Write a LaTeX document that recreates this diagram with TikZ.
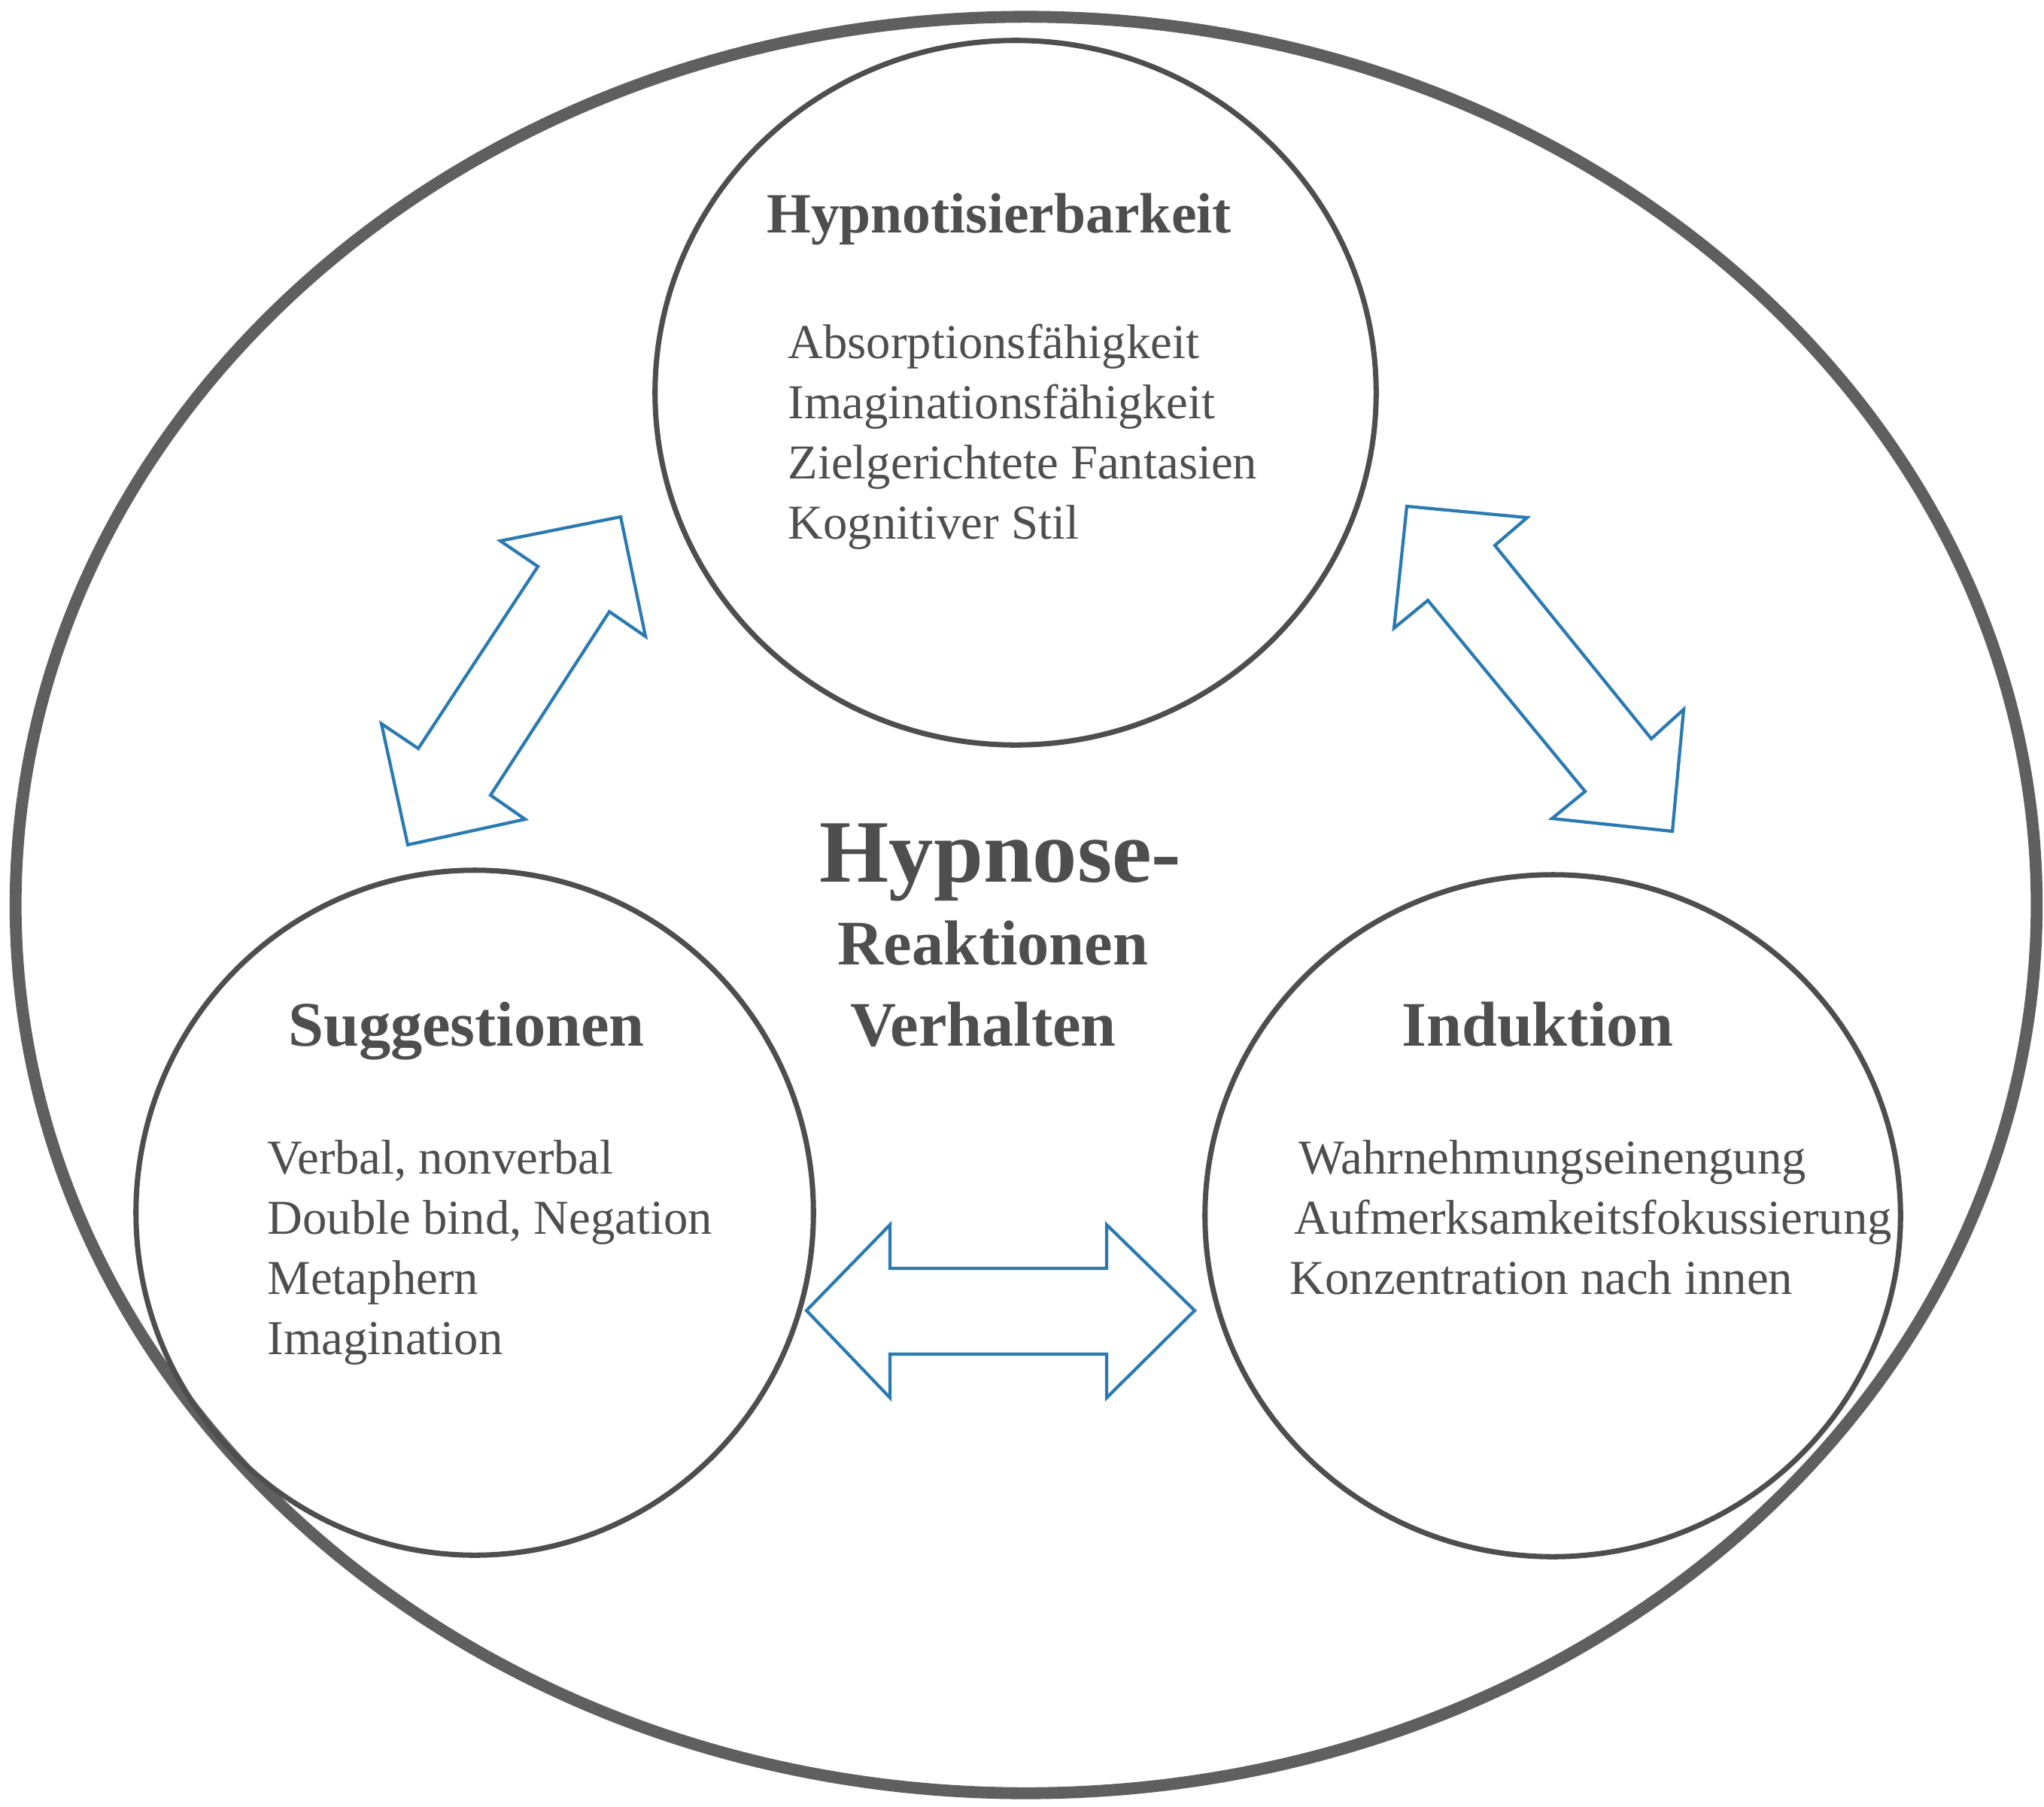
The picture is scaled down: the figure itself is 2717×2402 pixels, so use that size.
\documentclass[tikz,border=0pt]{standalone}
\usepackage{fontspec}
\setmainfont{Liberation Serif}
\usetikzlibrary{shapes.geometric}

\definecolor{rimgray}{RGB}{95,95,95}
\definecolor{inkgray}{RGB}{78,78,78}
\definecolor{arrowblue}{RGB}{42,122,178}

\begin{document}
\begin{tikzpicture}[x=0.01cm,y=-0.01cm]
	\tikzstyle{bubble}=[ellipse,draw=inkgray,line width=2pt,inner sep=0pt]
	\tikzstyle{headline}=[inkgray,font=\fontsize{24}{29}\selectfont\bfseries,inner sep=0pt,anchor=base]
	\tikzstyle{item}=[inkgray,font=\fontsize{18.4}{22.8}\selectfont,inner sep=0pt,anchor=base west]
	\tikzstyle{blockarrow}=[draw=arrowblue,line width=1.2pt,fill=white,line join=miter]
	\useasboundingbox (0,0) rectangle (2717,2402);
	\node[ellipse,draw=rimgray,line width=4.5pt,minimum width=26.85cm,minimum height=23.6cm] (frame) at (1364,1203) {};
	\node[bubble,minimum width=9.58cm,minimum height=9.36cm] (hyp) at (1350,522) {};
	\node[bubble,minimum width=9.0cm,minimum height=9.1cm] (sug) at (631,1612) {};
	\node[bubble,minimum width=9.24cm,minimum height=9.06cm] (ind) at (2064,1616) {};
	\node[headline,font=\fontsize{21.5}{26}\selectfont\bfseries] (hyptitle) at (1328,309) {Hypnotisierbarkeit};
	\node[item] (hyp1) at (1047,476) {Absorptionsfähigkeit};
	\node[item] (hyp2) at (1047,556) {Imaginationsfähigkeit};
	\node[item] (hyp3) at (1047,636) {Zielgerichtete Fantasien};
	\node[item] (hyp4) at (1047,716) {Kognitiver Stil};
	\node[headline,font=\fontsize{33.7}{40}\selectfont\bfseries] (mid1) at (1330,1172) {Hypnose-};
	\node[headline] (mid2) at (1320,1282) {Reaktionen};
	\node[headline] (mid3) at (1307,1390) {Verhalten};
	\node[headline] (sugtitle) at (620,1390) {Suggestionen};
	\node[item] (sug1) at (355,1560) {Verbal, nonverbal};
	\node[item] (sug2) at (355,1640) {Double bind, Negation};
	\node[item] (sug3) at (355,1720) {Metaphern};
	\node[item] (sug4) at (355,1800) {Imagination};
	\node[headline] (indtitle) at (2044,1390) {Induktion};
	\node[item] (ind1) at (1726,1560) {Wahrnehmungseinengung};
	\node[item] (ind2) at (1720,1640) {Aufmerksamkeitsfokussierung};
	\node[item] (ind3) at (1714,1720) {Konzentration nach innen};
	% double arrows between the circles
	\draw[blockarrow] (825,687) -- (665,719) -- (715,753) -- (556,995) -- (507,962) -- (542,1123) -- (698,1089) -- (652,1057) -- (810,813) -- (858,846) -- cycle;
	\draw[blockarrow] (1870,673) -- (2030,688) -- (1987,725) -- (2195,982) -- (2238,943) -- (2223,1105) -- (2063,1088) -- (2107,1052) -- (1898,798) -- (1853,835) -- cycle;
	\draw[blockarrow] (1072,1742) -- (1183,1628) -- (1183,1686) -- (1471,1686) -- (1471,1628) -- (1588,1742) -- (1471,1858) -- (1471,1800) -- (1183,1800) -- (1183,1858) -- cycle;
\end{tikzpicture}
\end{document}
